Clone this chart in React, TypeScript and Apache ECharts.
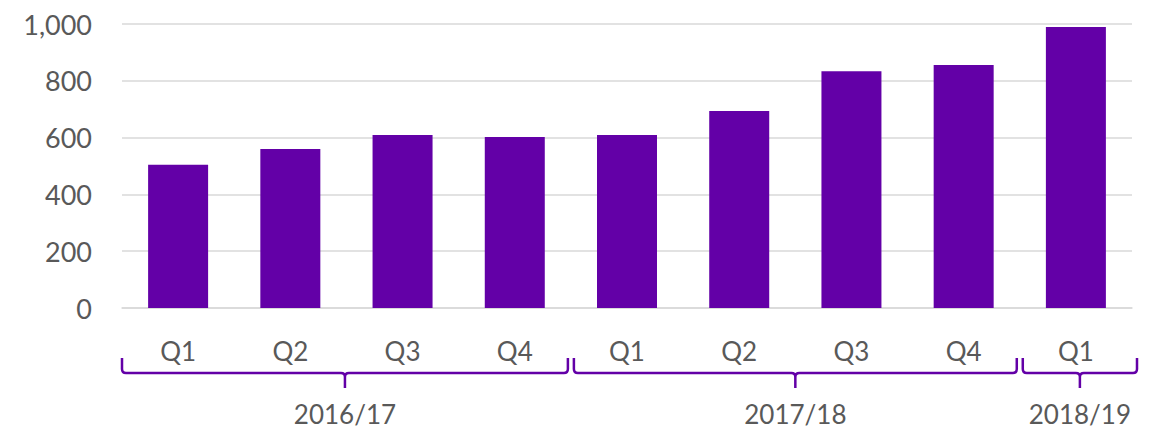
import React, { useEffect, useRef } from "react";
import * as echarts from "echarts";

const QUARTERS = ["Q1", "Q2", "Q3", "Q4", "Q1", "Q2", "Q3", "Q4", "Q1"];
const VALUES = [504, 560, 609, 602, 609, 694, 834, 856, 989];
const YEARS = ["2016/17", "2017/18", "2018/19"];
const YEAR_SPANS: [number, number][] = [[0, 3], [4, 7], [8, 8]];
const Y_TICKS = [0, 200, 400, 600, 800, 1000];

const FONT = "Lato, 'Open Sans', sans-serif";
const TEXT_COLOR = "#595959";
const BAR_COLOR = "#6300A7";

let braceRegistered = false;
function registerBrace() {
  if (braceRegistered) return;
  braceRegistered = true;
  const Brace = (echarts.graphic as any).extendShape({
    type: "brace",
    shape: { x1: 0, x2: 0, y0: 0, y1: 0, y2: 0 },
    buildPath(ctx: any, s: any) {
      const r = 4;
      const xm = (s.x1 + s.x2) / 2;
      ctx.moveTo(s.x1, s.y0);
      ctx.lineTo(s.x1, s.y1 - r);
      ctx.quadraticCurveTo(s.x1, s.y1, s.x1 + r, s.y1);
      ctx.lineTo(xm - r, s.y1);
      ctx.quadraticCurveTo(xm, s.y1, xm, s.y1 + r);
      ctx.lineTo(xm, s.y2);
      ctx.moveTo(xm, s.y1 + r);
      ctx.quadraticCurveTo(xm, s.y1, xm + r, s.y1);
      ctx.lineTo(s.x2 - r, s.y1);
      ctx.quadraticCurveTo(s.x2, s.y1, s.x2, s.y1 - r);
      ctx.lineTo(s.x2, s.y0);
    },
  });
  echarts.graphic.registerShape("brace", Brace);
}

export default function App() {
  const ref = useRef<HTMLDivElement>(null);
  useEffect(() => {
    if (!ref.current) return;
    registerBrace();
    const chart = echarts.init(ref.current, undefined, { renderer: "svg" });
    chart.setOption({
      animation: false,
      grid: { left: 122, right: 32, top: 24, bottom: 122 },
      xAxis: {
        type: "category",
        data: QUARTERS,
        axisLine: { lineStyle: { color: "#d9d9d9", width: 1.5 } },
        axisTick: { show: false },
        axisLabel: {
          color: TEXT_COLOR,
          fontSize: 26,
          fontFamily: FONT,
          margin: 30,
          lineHeight: 26,
        },
      },
      yAxis: {
        type: "value",
        min: Y_TICKS[0],
        max: Y_TICKS[Y_TICKS.length - 1],
        interval: 200,
        axisLine: { show: false },
        axisTick: { show: false },
        splitLine: { lineStyle: { color: "#d9d9d9", width: 1.5 } },
        axisLabel: {
          color: TEXT_COLOR,
          fontSize: 27,
          fontFamily: FONT,
          margin: 30,
          formatter: (v: number) => v.toLocaleString("en-US"),
        },
      },
      series: [
        {
          type: "bar",
          data: VALUES,
          barWidth: 60,
          itemStyle: { color: BAR_COLOR },
        },
      ],
    });

    const p0 = chart.convertToPixel({ xAxisIndex: 0 }, 0) as number;
    const p1 = chart.convertToPixel({ xAxisIndex: 0 }, 1) as number;
    const half = (p1 - p0) / 2;
    const graphics: any[] = [];
    YEAR_SPANS.forEach(([a, b], i) => {
      const left = (chart.convertToPixel({ xAxisIndex: 0 }, a) as number) - half;
      const right = (chart.convertToPixel({ xAxisIndex: 0 }, b) as number) + half;
      const x1 = i === 0 ? left : left + 3;
      const x2 = i === YEAR_SPANS.length - 1 ? right + 5 : right - 3;
      graphics.push({
        type: "brace",
        shape: { x1, x2, y0: 358, y1: 373, y2: 388 },
        style: { stroke: BAR_COLOR, lineWidth: 2.5, fill: null },
        silent: true,
      });
      graphics.push({
        type: "text",
        x: (x1 + x2) / 2,
        y: 414,
        style: {
          text: YEARS[i],
          fontSize: 26,
          lineHeight: 26,
          fontFamily: FONT,
          fill: TEXT_COLOR,
          align: "center",
          verticalAlign: "middle",
        },
        silent: true,
      });
    });
    chart.setOption({ graphic: graphics });

    return () => chart.dispose();
  }, []);
  return (
    <div
      ref={ref}
      style={{ position: "absolute", left: 0, top: 0, width: 1164, height: 430 }}
    />
  );
}
